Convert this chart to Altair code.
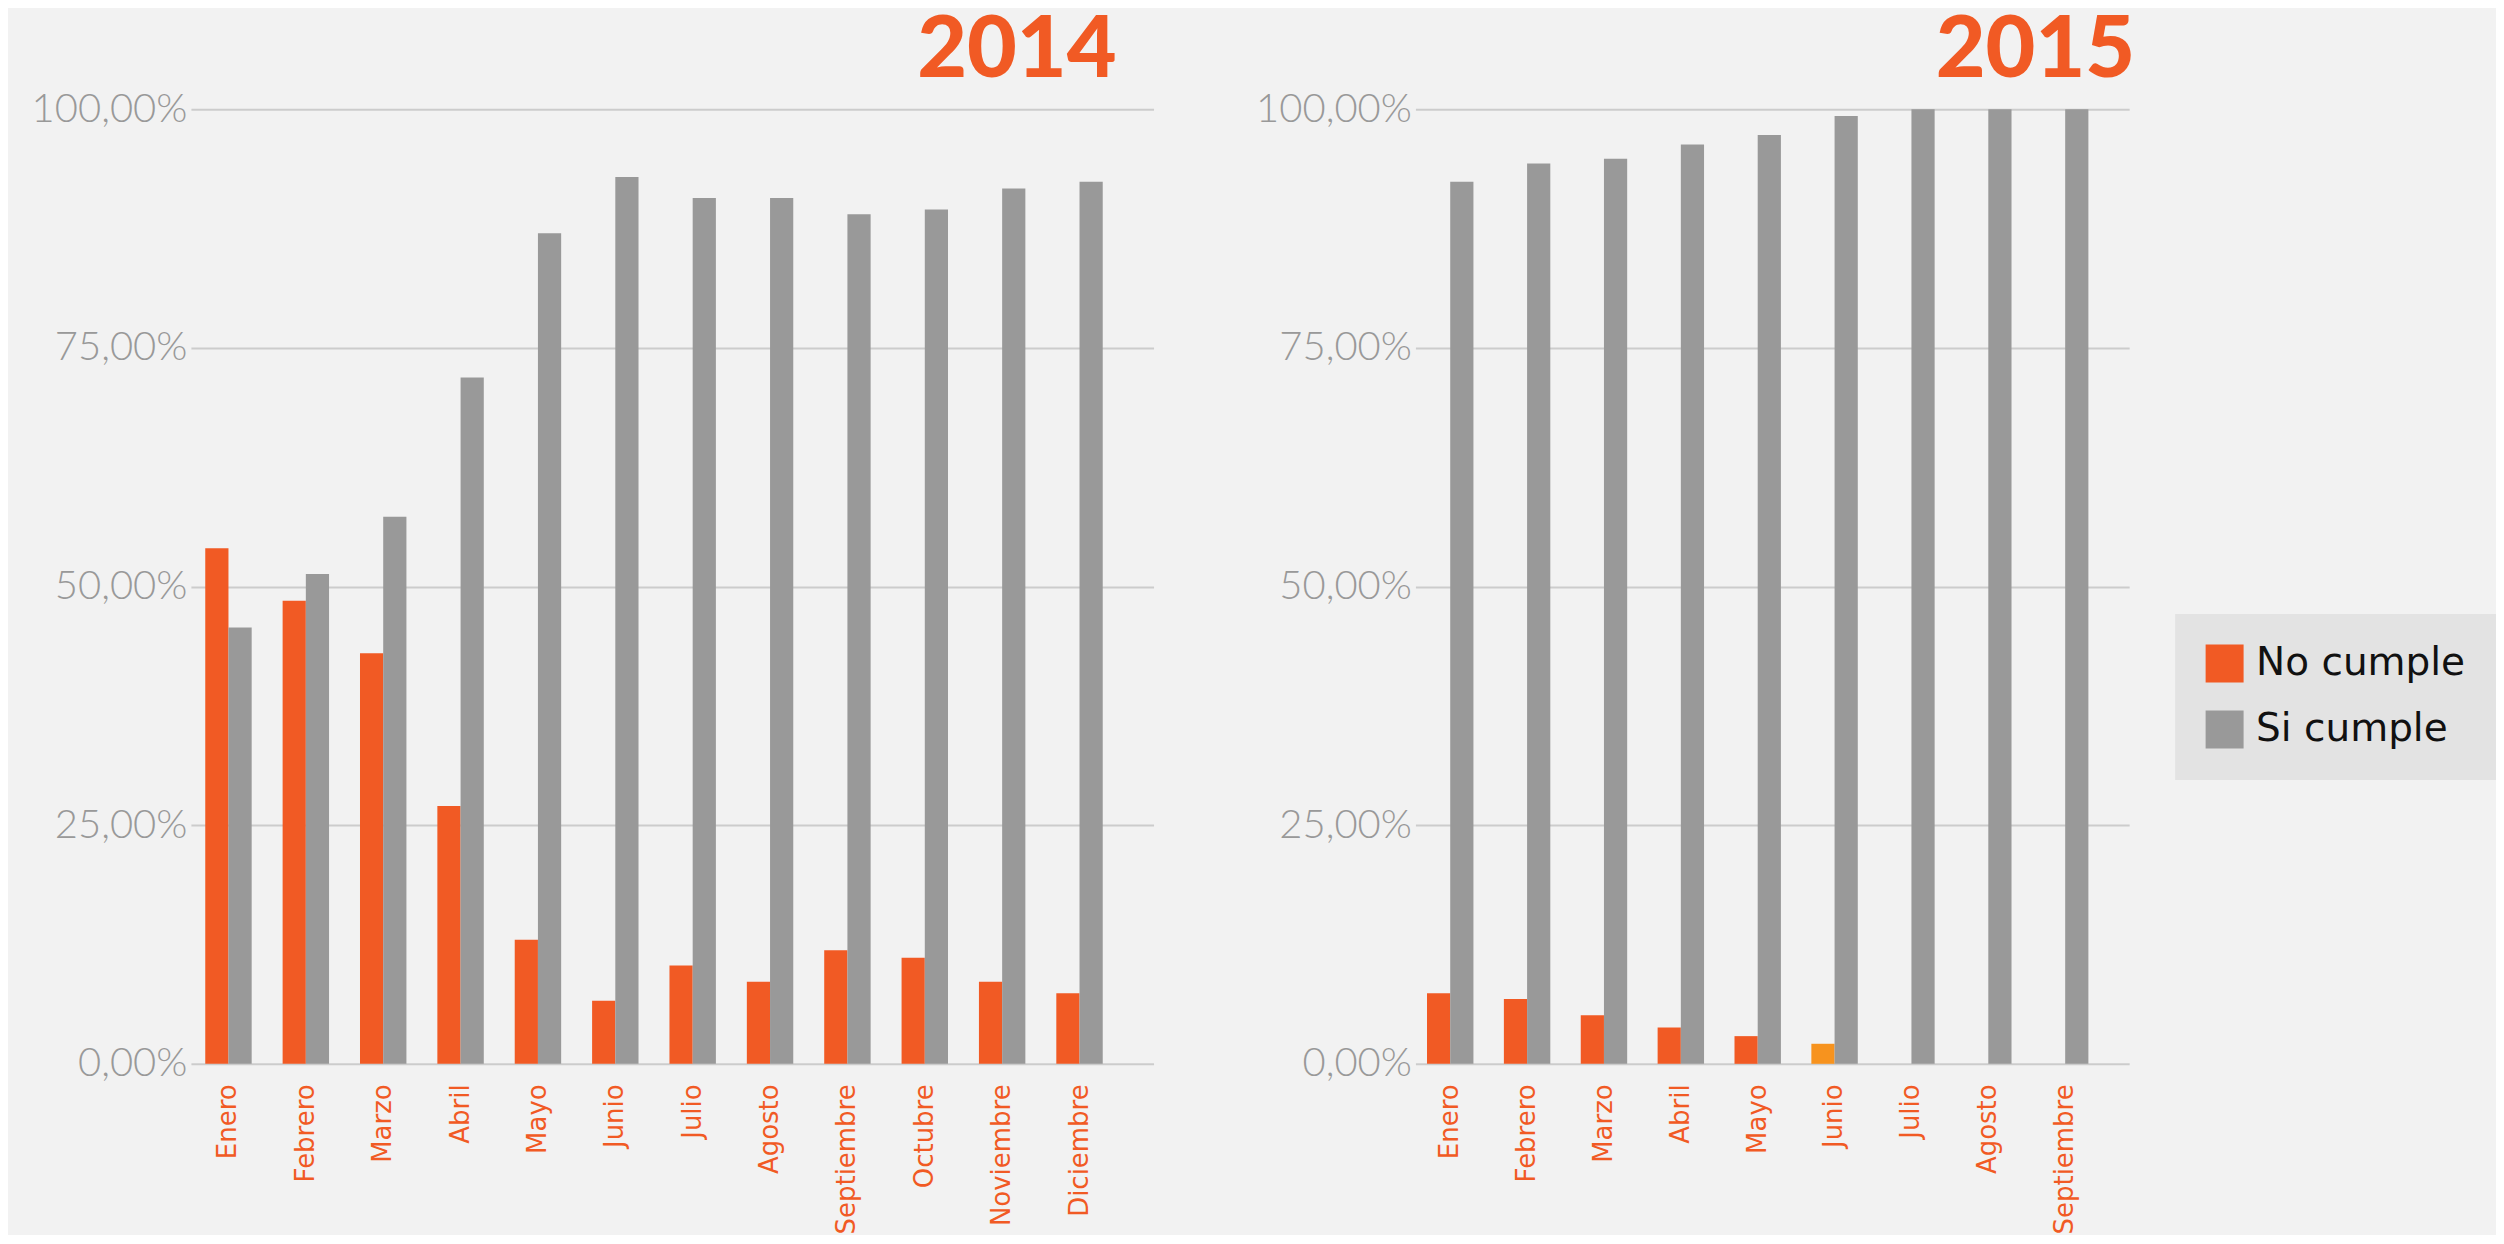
import altair as alt
import pandas as pd

meses_2014 = ["Enero", "Febrero", "Marzo", "Abril", "Mayo", "Junio", "Julio",
              "Agosto", "Septiembre", "Octubre", "Noviembre", "Diciembre"]
no_cumple_2014 = [54.0, 48.5, 43.0, 27.0, 13.0, 6.6, 10.3, 8.6, 11.9, 11.1, 8.6, 7.4]
si_cumple_2014 = [45.7, 51.3, 57.3, 71.9, 87.0, 92.9, 90.7, 90.7, 89.0, 89.5, 91.7, 92.4]

meses_2015 = ["Enero", "Febrero", "Marzo", "Abril", "Mayo", "Junio", "Julio",
              "Agosto", "Septiembre"]
no_cumple_2015 = [7.4, 6.8, 5.1, 3.8, 2.9, 2.1, 0.0, 0.0, 0.0]
si_cumple_2015 = [92.4, 94.3, 94.8, 96.3, 97.3, 99.3, 100.0, 100.0, 100.0]

anios = ["2014", "2015"]
series = ["No cumple", "Si cumple"]
colores = ["#F15A24", "#999999"]
destacado_2015 = ["Junio"]  # barra "No cumple" en naranja claro
y_ticks = [0, 0.25, 0.5, 0.75, 1.0]

ORANGE = "#F15A24"
PLOT_H = 955


def build_df(meses, no, si, destacados):
    rows = []
    for m, a, b in zip(meses, no, si):
        rows.append({"mes": m, "serie": series[0], "valor": a / 100,
                     "destacado": 1 if m in destacados else 0})
        rows.append({"mes": m, "serie": series[1], "valor": b / 100,
                     "destacado": 0})
    return pd.DataFrame(rows)


def panel(meses, no, si, destacados, titulo, width, step, title_dx):
    df = build_df(meses, no, si, destacados)
    n = len(meses)
    p_inner = 0.4
    p_outer = (width / step - n + p_inner) / 2
    bars = alt.Chart(df).mark_bar().encode(
        x=alt.X("mes:N", sort=meses,
                scale=alt.Scale(paddingInner=p_inner, paddingOuter=p_outer, align=0.22),
                axis=alt.Axis(title=None, labelAngle=-90, labelColor=ORANGE,
                              labelFont="DejaVu Sans", labelFontSize=26,
                              labelPadding=20, ticks=False, domain=False,
                              grid=False, labelBaseline="middle", labelLimit=400)),
        xOffset=alt.XOffset("serie:N", sort=series),
        y=alt.Y("valor:Q", scale=alt.Scale(domain=[0, 1]),
                axis=alt.Axis(title=None, values=y_ticks,
                              labelExpr="replace(format(datum.value, '.2%'), '.', ',')",
                              labelFont="Lato", labelFontWeight=300,
                              labelFontSize=40, labelColor="#999999",
                              labelPadding=4, ticks=False, domain=False,
                              grid=True, gridColor="#CCCCCC", gridWidth=2,
                              minExtent=174, maxExtent=174)),
        color=alt.condition(
            "datum.destacado == 1",
            alt.value("#F7931E"),
            alt.Color("serie:N", scale=alt.Scale(domain=series, range=colores),
                      legend=alt.Legend(
                          title=None, orient="none", legendX=1985, legendY=505,
                          fillColor="#E3E3E3", padding=30, symbolType="square",
                          symbolSize=1444, symbolStrokeWidth=0,
                          labelFont="DejaVu Sans", labelFontSize=39,
                          labelColor="#111111", labelOffset=12, rowPadding=26,
                          labelLimit=400)),
        ),
    )
    title = alt.Chart(pd.DataFrame({"anio": [titulo]})).mark_text(
        align="right", baseline="alphabetic", font="Lato", fontWeight=900,
        fontSize=86, color=ORANGE,
    ).encode(text="anio:N", x=alt.value(width + title_dx), y=alt.value(-32))
    return alt.layer(bars, title).properties(width=width, height=PLOT_H)


left = panel(meses_2014, no_cumple_2014, si_cumple_2014, [], anios[0], 963, 77.4, -37)
right = panel(meses_2015, no_cumple_2015, si_cumple_2015, destacado_2015, anios[1], 714, 76.9, 6)

chart = alt.hconcat(left, right, spacing=88).properties(
    background="#F2F2F2",
    padding={"left": 9, "top": 0, "right": 0, "bottom": 0},
).configure_view(stroke=None)

chart.save("out.html", embed_options={"renderer": "svg", "actions": False})
